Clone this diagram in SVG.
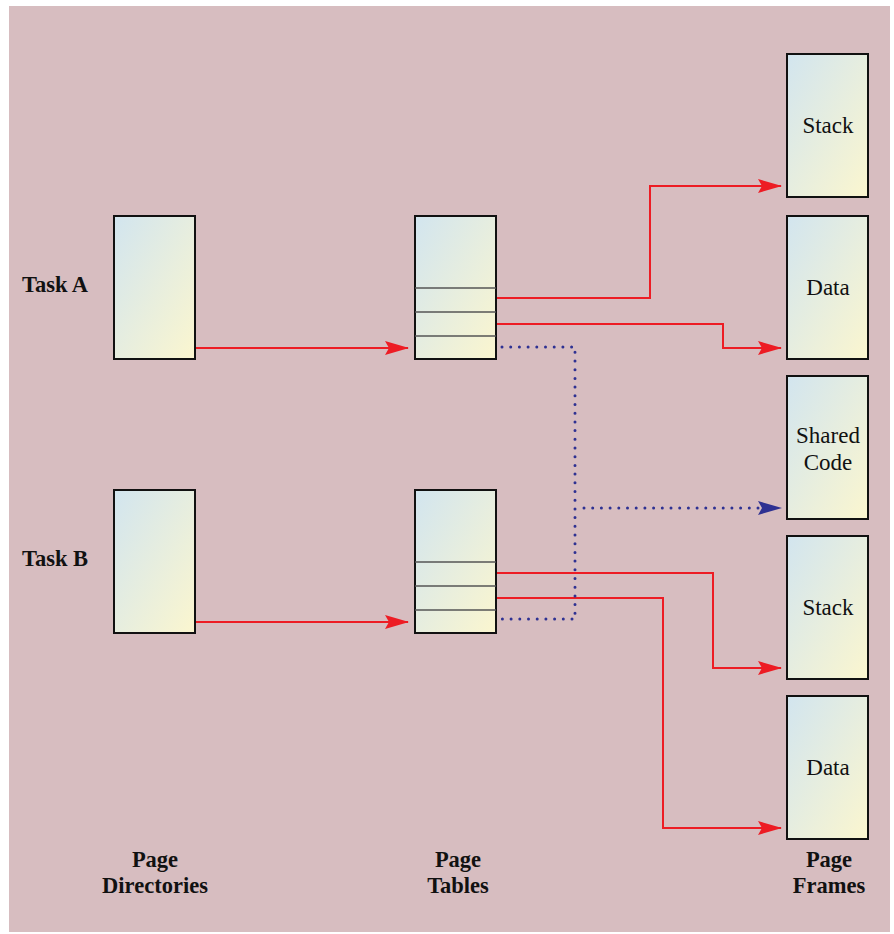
<svg xmlns="http://www.w3.org/2000/svg" width="894" height="934" viewBox="0 0 894 934">
<defs>
<linearGradient id="g" x1="0" y1="0" x2="1" y2="1">
<stop offset="0" stop-color="#D2E5EF"/>
<stop offset="1" stop-color="#FBF6CF"/>
</linearGradient>
<marker id="ar" viewBox="0 0 24 14" refX="23" refY="7" markerWidth="24" markerHeight="14" markerUnits="userSpaceOnUse" orient="auto">
<path d="M0,0 L24,7 L0,14 L4,7 Z" fill="#ED1C24"/>
</marker>
<marker id="ab" viewBox="0 0 24 14" refX="23" refY="7" markerWidth="24" markerHeight="14" markerUnits="userSpaceOnUse" orient="auto">
<path d="M0,0 L24,7 L0,14 L4,7 Z" fill="#2E3192"/>
</marker>
</defs>
<style>
.box{fill:url(#g);stroke:#111;stroke-width:2}
.row{stroke:#555;stroke-width:1.5}
.red{fill:none;stroke:#ED1C24;stroke-width:2}
.dot{fill:none;stroke:#2E3192;stroke-width:3;stroke-linecap:round;stroke-dasharray:0 8.7}
text{font-family:'Liberation Serif','DejaVu Serif',serif}
.lbl{font-size:23px;fill:#111;text-anchor:middle}
.hd{font-size:22.5px;font-weight:bold;fill:#111}
</style>
<rect x="9" y="6" width="881" height="926" fill="#D7BDC0"/>

<g id="dirA"><rect class="box" x="114" y="216" width="81" height="143"/></g>
<g id="dirB"><rect class="box" x="114" y="490" width="81" height="143"/></g>
<g id="tblA"><rect class="box" x="415" y="216" width="81" height="143"/>
<line class="row" x1="415" y1="288" x2="496" y2="288"/><line class="row" x1="415" y1="312" x2="496" y2="312"/><line class="row" x1="415" y1="336" x2="496" y2="336"/></g>
<g id="tblB"><rect class="box" x="415" y="490" width="81" height="143"/>
<line class="row" x1="415" y1="562" x2="496" y2="562"/><line class="row" x1="415" y1="586" x2="496" y2="586"/><line class="row" x1="415" y1="610" x2="496" y2="610"/></g>
<g id="stackA"><rect class="box" x="787" y="54" width="81" height="143"/><text class="lbl" x="828" y="133">Stack</text></g>
<g id="dataA"><rect class="box" x="787" y="216" width="81" height="143"/><text class="lbl" x="828" y="295">Data</text></g>
<g id="shared"><rect class="box" x="787" y="376" width="81" height="143"/><text class="lbl" x="828" y="443">Shared</text><text class="lbl" x="828" y="470">Code</text></g>
<g id="stackB"><rect class="box" x="787" y="536" width="81" height="143"/><text class="lbl" x="828" y="615">Stack</text></g>
<g id="dataB"><rect class="box" x="787" y="696" width="81" height="143"/><text class="lbl" x="828" y="775">Data</text></g>

<g id="labels">
<text class="hd" x="22" y="292">Task A</text>
<text class="hd" x="22" y="566">Task B</text>
<text class="hd" x="155" y="867" text-anchor="middle">Page</text>
<text class="hd" x="155" y="893" text-anchor="middle">Directories</text>
<text class="hd" x="458" y="867" text-anchor="middle">Page</text>
<text class="hd" x="458" y="893" text-anchor="middle">Tables</text>
<text class="hd" x="829" y="867" text-anchor="middle">Page</text>
<text class="hd" x="829" y="893" text-anchor="middle">Frames</text>
</g>

<g id="connectors">
<path class="red" d="M196,348 H408" marker-end="url(#ar)"/>
<path class="red" d="M196,622 H408" marker-end="url(#ar)"/>
<path class="red" d="M497,298 H650 V186 H781" marker-end="url(#ar)"/>
<path class="red" d="M497,324 H723 V348 H781" marker-end="url(#ar)"/>
<path class="red" d="M497,573 H713 V668 H781" marker-end="url(#ar)"/>
<path class="red" d="M497,598 H663 V828 H781" marker-end="url(#ar)"/>
<path class="dot" d="M502,347 H575 V619 H497"/>
<path class="dot" d="M584,508 H760"/>
<path d="M760,508 H781" stroke="none" marker-end="url(#ab)"/>
</g>
</svg>
